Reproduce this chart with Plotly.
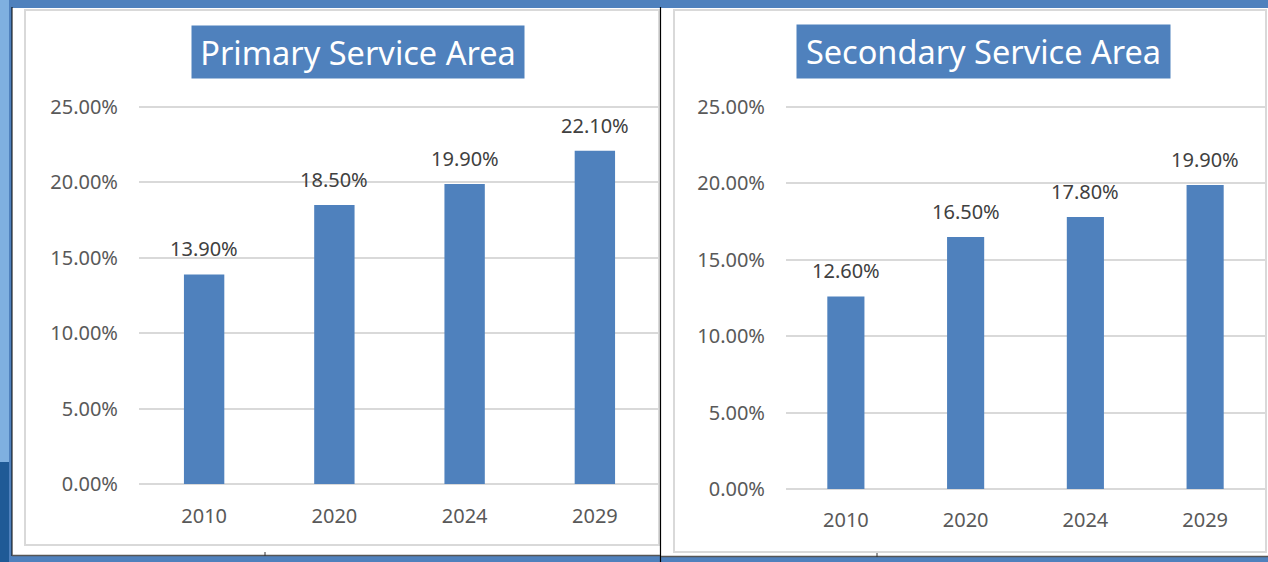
import plotly.graph_objects as go

W, H = 1268, 562

years = ["2010", "2020", "2024", "2029"]
primary = [0.139, 0.185, 0.199, 0.221]
secondary = [0.126, 0.165, 0.178, 0.199]
titles = ["Primary Service Area", "Secondary Service Area"]

BLUE = "#4f81bd"
FONT = "Noto Sans"
YMAX = 0.2515


def px(x):
    return x / W


def py(y):
    return 1 - y / H


def ytop(y0, y25):
    # pixel for YMAX given pixels of 0 and 0.25
    return y0 - (y0 - y25) * YMAX / 0.25


fig = go.Figure()

for i, (vals, xa, ya) in enumerate([(primary, "x", "y"), (secondary, "x2", "y2")]):
    fig.add_trace(go.Bar(x=years, y=vals, xaxis=xa, yaxis=ya, marker_color=BLUE,
                         marker_line_width=0, width=0.31, hoverinfo="skip", showlegend=False))
    for k, v in enumerate(vals):
        fig.add_annotation(x=k, y=v, xref=xa, yref=ya, text=f"{v*100:.2f}%",
                           showarrow=False, yanchor="bottom", yshift=10,
                           font=dict(family=FONT, size=20, color="#404040"))

axis_common = dict(tickfont=dict(family=FONT, size=20, color="#595959"), automargin=False)

fig.update_layout(
    width=W, height=H,
    margin=dict(l=0, r=0, t=0, b=0, pad=0),
    paper_bgcolor=BLUE,
    plot_bgcolor="rgba(0,0,0,0)",
    xaxis=dict(domain=[px(139), px(660)], type="category", categoryorder="array",
               categoryarray=years, range=[-0.5, 3.5], showgrid=False, showline=False,
               zeroline=False, ticks="", ticklabelstandoff=18, anchor="y", **axis_common),
    yaxis=dict(domain=[py(484), py(ytop(484, 107))], range=[0, YMAX], dtick=0.05, tickformat=".2%",
               showgrid=True, gridcolor="#d9d9d9", gridwidth=2, zeroline=True,
               zerolinecolor="#d9d9d9", zerolinewidth=2, showline=False, ticks="",
               ticklabelstandoff=20, anchor="x", **axis_common),
    xaxis2=dict(domain=[px(786), px(1265)], type="category", categoryorder="array",
                categoryarray=years, range=[-0.5, 3.5], showgrid=False, showline=False,
                zeroline=False, ticks="", ticklabelstandoff=17, anchor="y2", **axis_common),
    yaxis2=dict(domain=[py(489), py(ytop(489, 107))], range=[0, YMAX], dtick=0.05, tickformat=".2%",
                showgrid=True, gridcolor="#d9d9d9", gridwidth=2, zeroline=True,
                zerolinecolor="#d9d9d9", zerolinewidth=2, showline=False, ticks="",
                ticklabelstandoff=20, anchor="x2", **axis_common),
)

shapes = []


def rect(x0, y0, x1, y1, fill=None, line=None, lw=0, layer="below"):
    d = dict(type="rect", xref="paper", yref="paper", x0=px(x0), x1=px(x1), y0=py(y1), y1=py(y0),
             layer=layer, line=dict(width=lw, color=line or "rgba(0,0,0,0)"))
    if fill:
        d["fillcolor"] = fill
    shapes.append(d)


def line(x0, y0, x1, y1, color, lw=1, layer="above"):
    shapes.append(dict(type="line", xref="paper", yref="paper", x0=px(x0), x1=px(x1),
                       y0=py(y0), y1=py(y1), line=dict(color=color, width=lw), layer=layer))


# left light-blue strip and dark block
rect(0, 0, 9, 562, fill="#7fb0e0")
rect(0, 462, 9, 562, fill="#1f5a96")
# panels
rect(12, 8, 661, 556, fill="white")
rect(661, 8, 1268, 557, fill="white")
# inner light gray chart borders
rect(25, 10, 659, 545, line="#d9d9d9", lw=2)
rect(674, 10, 1266, 552, line="#d9d9d9", lw=2)
# dark separator lines
line(12, 7, 12, 556, "#000000", 1)
line(660.5, 7, 660.5, 562, "#000000", 1.2)
line(12, 555.5, 660, 555.5, "#555555", 1.5)
line(661, 556.5, 1268, 556.5, "#555555", 1.5)
line(265, 552, 265, 556, "#333333", 1)
line(877, 553, 877, 557, "#333333", 1)
fig.update_layout(shapes=shapes)

# title boxes
for t, (x0, x1, y0, y1) in zip(titles, [(192, 524, 26, 78), (797, 1170, 25, 78)]):
    fig.add_annotation(xref="paper", yref="paper", x=px((x0 + x1) / 2), y=py((y0 + y1) / 2),
                       xanchor="center", yanchor="middle", showarrow=False,
                       text=t, bgcolor=BLUE, width=x1 - x0, height=y1 - y0, borderpad=0,
                       font=dict(family=FONT, size=32.5, color="white"))

fig.write_html("out.html")
